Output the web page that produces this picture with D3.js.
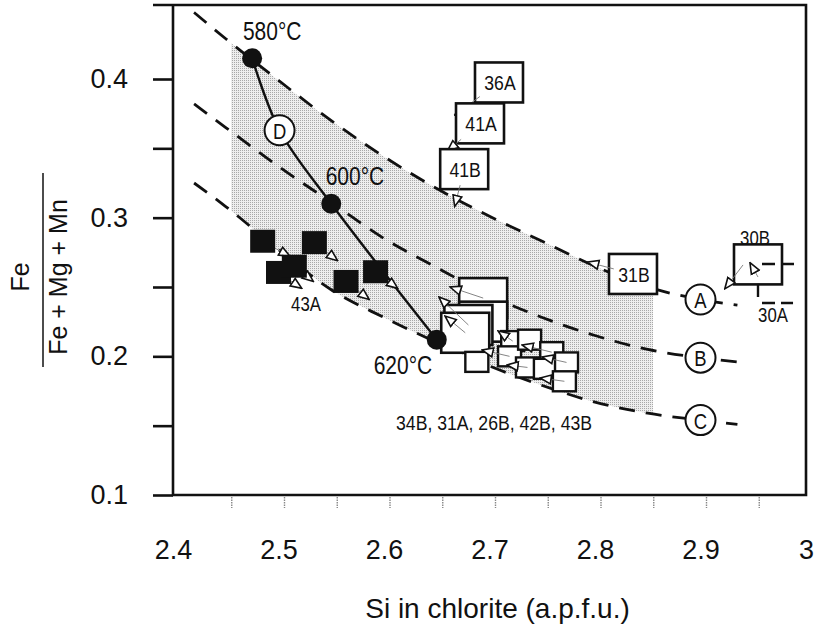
<!DOCTYPE html>
<html>
<head>
<meta charset="utf-8">
<script src="https://cdn.jsdelivr.net/npm/d3@7"></script>
<style>
  body { margin: 0; background: #fff; }
  svg text { font-family: "Liberation Sans", Arial, sans-serif; fill: #111; }
</style>
</head>
<body>
<svg id="chart" width="819" height="633"></svg>
<script>
// dashed curves A, B, C sampled along Si
const curveX = [2.42, 2.45, 2.5, 2.55, 2.6, 2.65, 2.7, 2.75, 2.8, 2.85, 2.9, 2.935];
const curveA = [0.448, 0.429, 0.399, 0.370, 0.344, 0.321, 0.301, 0.283, 0.265, 0.250, 0.241, 0.237];
const curveB = [0.382, 0.365, 0.337, 0.311, 0.285, 0.264, 0.244, 0.228, 0.215, 0.205, 0.199, 0.196];
const curveC = [0.325, 0.308, 0.277, 0.248, 0.228, 0.210, 0.193, 0.179, 0.167, 0.159, 0.154, 0.151];
const bandRange = [2.455, 2.855];

// circled labels on the curves
const circleLabel = ["A", "B", "C", "D"];
const circleX = [2.9, 2.9, 2.9, 2.501];
const circleY = [0.241, 0.199, 0.154, 0.363];

// temperature line D
const lineDX = [2.475, 2.501, 2.55, 2.65];
const lineDY = [0.415, 0.363, 0.310, 0.212];
const tempLabel = ["580°C", "600°C", "620°C"];
const tempX = [2.475, 2.55, 2.65];
const tempY = [0.415, 0.310, 0.212];
const tempTextX = [2.494, 2.5725, 2.618];
const tempTextY = [0.4346, 0.3301, 0.1938];

// black squares (43A) and their shift arrows
const blackX = [2.485, 2.534, 2.500, 2.515, 2.564, 2.592];
const blackY = [0.283, 0.282, 0.2605, 0.265, 0.254, 0.261];
const blackToX = [2.511, 2.556, 2.522, 2.533, 2.586, 2.613];
const blackToY = [0.272, 0.269, 0.249, 0.254, 0.241, 0.249];

// labelled open squares
const boxId = ["36A", "41A", "41B", "31B", "30B"];
const boxX = [2.709, 2.691, 2.676, 2.836, 2.9545];
const boxY = [0.3975, 0.368, 0.335, 0.2594, 0.2663];
const boxToX = [2.667, 2.660, 2.667, 2.793, 2.923];
const boxToY = [0.374, 0.348, 0.308, 0.268, 0.2486];

// cluster 34B, 31A, 26B, 42B, 43B
const bigX = [2.694, 2.694, 2.680, 2.677];
const bigY = [0.242, 0.225, 0.2226, 0.217];
const smallX = [2.722, 2.688, 2.719, 2.738, 2.759, 2.736, 2.753, 2.773, 2.771];
const smallY = [0.211, 0.196, 0.200, 0.212, 0.203, 0.192, 0.191, 0.1956, 0.182];
const shiftFromX = [2.694, 2.680, 2.677, 2.722, 2.719, 2.759, 2.736, 2.773, 2.771, 2.9403, 2.9545];
const shiftFromY = [0.242, 0.2226, 0.217, 0.211, 0.200, 0.203, 0.192, 0.1956, 0.182, 0.2659, 0.2572];
const shiftToX = [2.6626, 2.6521, 2.6578, 2.7081, 2.6929, 2.7308, 2.7166, 2.7498, 2.7479, 2.923, 2.9469];
const shiftToY = [0.2500, 0.2428, 0.2291, 0.2183, 0.2046, 0.2082, 0.1938, 0.1996, 0.1844, 0.2486, 0.2676];

// odd 30A / 30B marks
const markX1 = [2.9583, 2.9545, 2.9583];
const markY1 = [0.2666, 0.2522, 0.2385];
const markX2 = [2.9943, 2.9545, 2.9877];
const markY2 = [0.2666, 0.2428, 0.2385];

const noteText = ["43A", "34B, 31A, 26B, 42B, 43B", "30B", "30A"];
const noteX = [2.5261, 2.7043, 2.9517, 2.9687];
const noteY = [0.2378, 0.1527, 0.2854, 0.2298];

const xTicks = [2.4, 2.5, 2.6, 2.7, 2.8, 2.9, 3];
const yTicks = [0.1, 0.15, 0.2, 0.25, 0.3, 0.35, 0.4];
const xMinor = [2.45, 2.5, 2.55, 2.6, 2.65, 2.7, 2.75, 2.8, 2.85, 2.9, 2.95];

const frame = { left: 173, right: 806, top: 5, bottom: 495 };
const squeeze = 0.84;

const x = d3.scaleLinear().domain([2.4, 3.0]).range([frame.left, frame.right]);
const y = d3.scaleLinear().domain([0.1, 0.4]).range([frame.bottom, 79]);

const svg = d3.select("#chart");
const defs = svg.append("defs");

const pat = defs.append("pattern")
    .attr("id", "stipple")
    .attr("width", 2).attr("height", 2)
    .attr("patternUnits", "userSpaceOnUse");
pat.append("rect").attr("width", 2).attr("height", 2).attr("fill", "#eeeeee");
pat.append("rect").attr("width", 1).attr("height", 1).attr("fill", "#a8a8a8");

defs.append("marker")
    .attr("id", "tri")
    .attr("viewBox", "-1 -6 13 12")
    .attr("refX", 11).attr("refY", 0)
    .attr("markerWidth", 13).attr("markerHeight", 12)
    .attr("markerUnits", "userSpaceOnUse")
    .attr("orient", "auto")
    .append("path")
    .attr("d", "M0,-4.5L11,0L0,4.5Z")
    .attr("fill", "#fff")
    .attr("stroke", "#111")
    .attr("stroke-width", 1.6);

defs.append("clipPath").attr("id", "bandClip")
    .append("rect")
    .attr("x", x(bandRange[0]))
    .attr("y", frame.top)
    .attr("width", x(bandRange[1]) - x(bandRange[0]))
    .attr("height", frame.bottom - frame.top);

// narrow-looking label: squeezed horizontally around its anchor
function label(g, px, py, str, size) {
    return g.append("text")
        .attr("transform", `translate(${px},${py}) scale(${squeeze},1)`)
        .attr("text-anchor", "middle")
        .attr("dominant-baseline", "central")
        .style("font-size", size + "px")
        .text(str);
}

const idx = d3.range(curveX.length);

// shaded field between A and C
const band = d3.area()
    .x(i => x(curveX[i]))
    .y0(i => y(curveC[i]))
    .y1(i => y(curveA[i]))
    .curve(d3.curveMonotoneX);

svg.append("path")
    .datum(idx)
    .attr("d", band)
    .attr("fill", "url(#stipple)")
    .attr("clip-path", "url(#bandClip)");

// frame and axes
svg.append("path")
    .attr("d", `M${frame.left - 20},${frame.top}H${frame.right}V${frame.bottom}H${frame.left}V${frame.top}`)
    .attr("fill", "none")
    .attr("stroke", "#111")
    .attr("stroke-width", 2.6);

const yAxis = svg.append("g")
    .attr("transform", `translate(${frame.left},0)`)
    .call(d3.axisLeft(y)
        .tickValues(yTicks)
        .tickSize(20)
        .tickPadding(25)
        .tickFormat(d => Math.round(d * 100) % 10 === 0 ? d3.format(".1f")(d) : ""));
yAxis.select(".domain").remove();
yAxis.selectAll("line").attr("stroke", "#111").attr("stroke-width", 2.6);
yAxis.selectAll("text").style("font-size", "27px").attr("fill", "#111");

const xAxis = svg.append("g")
    .attr("transform", `translate(0,${frame.bottom})`)
    .call(d3.axisBottom(x)
        .tickValues(xTicks)
        .tickSize(0)
        .tickPadding(45)
        .tickFormat(d3.format("")));
xAxis.select(".domain").remove();
xAxis.selectAll("text").style("font-size", "27px").attr("fill", "#111");

svg.append("g")
    .attr("transform", "translate(6,0)")
    .selectAll("line")
    .data(xMinor)
    .join("line")
    .attr("x1", d => x(d)).attr("x2", d => x(d))
    .attr("y1", frame.bottom + 2).attr("y2", frame.bottom + 13)
    .attr("stroke", "#888")
    .attr("stroke-width", 1.4)
    .attr("stroke-dasharray", "1.5,1");

svg.append("text")
    .attr("x", (frame.left + frame.right) / 2 + 8)
    .attr("y", 618)
    .attr("text-anchor", "middle")
    .style("font-size", "28px")
    .text("Si in chlorite (a.p.f.u.)");

// y title as a fraction
const yt = svg.append("g").attr("transform", "translate(0,277)");
yt.append("text")
    .attr("transform", "translate(29,0) rotate(-90)")
    .attr("text-anchor", "middle")
    .style("font-size", "25px")
    .text("Fe");
yt.append("line")
    .attr("x1", 43).attr("x2", 43)
    .attr("y1", -104).attr("y2", 90)
    .attr("stroke", "#111").attr("stroke-width", 1.5);
yt.append("text")
    .attr("transform", "translate(67,0) rotate(-90)")
    .attr("text-anchor", "middle")
    .style("font-size", "25px")
    .text("Fe + Mg + Mn");

// dashed curves
const curveLine = arr => d3.line()
    .x(i => x(curveX[i]))
    .y(i => y(arr[i]))
    .curve(d3.curveMonotoneX)(idx);

svg.append("g")
    .selectAll("path")
    .data([curveA, curveB, curveC])
    .join("path")
    .attr("d", curveLine)
    .attr("fill", "none")
    .attr("stroke", "#111")
    .attr("stroke-width", 2.8)
    .attr("stroke-dasharray", "16,11");

// temperature line
svg.append("path")
    .datum(d3.range(lineDX.length))
    .attr("d", d3.line().x(i => x(lineDX[i])).y(i => y(lineDY[i])).curve(d3.curveCatmullRom))
    .attr("fill", "none")
    .attr("stroke", "#111")
    .attr("stroke-width", 2.4);

// black squares with arrows beneath
const sq = 25;
svg.append("g")
    .selectAll("line")
    .data(blackX)
    .join("line")
    .attr("x1", (d, i) => x(blackX[i])).attr("y1", (d, i) => y(blackY[i]))
    .attr("x2", (d, i) => x(blackToX[i])).attr("y2", (d, i) => y(blackToY[i]))
    .attr("stroke", "#777").attr("stroke-width", 0.9)
    .attr("marker-end", "url(#tri)");

svg.append("g")
    .selectAll("rect")
    .data(blackX)
    .join("rect")
    .attr("x", (d, i) => x(blackX[i]) - sq / 2)
    .attr("y", (d, i) => y(blackY[i]) - sq / 2 + 1)
    .attr("width", sq).attr("height", sq - 2)
    .attr("fill", "#111");

// labelled squares: arrow from near the box edge
const bw = 48, bh = 40;
const edgePoint = i => {
    const cx = x(boxX[i]), cy = y(boxY[i]);
    const tx = x(boxToX[i]), ty = y(boxToY[i]);
    const dx = tx - cx, dy = ty - cy;
    const t = Math.min(Math.abs((bw / 2) / dx || Infinity), Math.abs((bh / 2) / dy || Infinity));
    return [cx + dx * t * 0.8, cy + dy * t * 0.8];
};

const boxG = svg.append("g");
boxId.forEach((id, i) => {
    if (i === 4) return;
    const [sx, sy] = edgePoint(i);
    boxG.append("rect")
        .attr("x", x(boxX[i]) - bw / 2).attr("y", y(boxY[i]) - bh / 2)
        .attr("width", bw).attr("height", bh)
        .attr("fill", "#fff").attr("stroke", "#111").attr("stroke-width", 2.6);
    label(boxG, x(boxX[i]) + 1, y(boxY[i]), id, 21);
    boxG.append("line")
        .attr("x1", sx).attr("y1", sy)
        .attr("x2", x(boxToX[i])).attr("y2", y(boxToY[i]))
        .attr("stroke", "#777").attr("stroke-width", 0.9)
        .attr("marker-end", "url(#tri)");
});

// 30B box (label sits above)
boxG.append("rect")
    .attr("x", x(boxX[4]) - bw / 2).attr("y", y(boxY[4]) - bh / 2)
    .attr("width", bw).attr("height", bh)
    .attr("fill", "#fff").attr("stroke", "#111").attr("stroke-width", 2.6);

svg.append("g")
    .selectAll("line")
    .data(markX1)
    .join("line")
    .attr("x1", (d, i) => x(markX1[i])).attr("y1", (d, i) => y(markY1[i]))
    .attr("x2", (d, i) => x(markX2[i])).attr("y2", (d, i) => y(markY2[i]))
    .attr("stroke", "#111").attr("stroke-width", 2.4)
    .attr("stroke-dasharray", (d, i) => i === 1 ? null : "13,6");

// cluster of open squares
const cl = svg.append("g");
cl.selectAll("rect.big")
    .data(bigX)
    .join("rect")
    .attr("class", "big")
    .attr("x", (d, i) => x(bigX[i]) - 24).attr("y", (d, i) => y(bigY[i]) - 20)
    .attr("width", 48).attr("height", 40)
    .attr("fill", "#fff").attr("stroke", "#111").attr("stroke-width", 2.6);
cl.selectAll("rect.small")
    .data(smallX)
    .join("rect")
    .attr("class", "small")
    .attr("x", (d, i) => x(smallX[i]) - 11.5).attr("y", (d, i) => y(smallY[i]) - 10)
    .attr("width", 23).attr("height", 20)
    .attr("fill", "#fff").attr("stroke", "#111").attr("stroke-width", 2.4);

svg.append("g")
    .selectAll("line")
    .data(shiftFromX)
    .join("line")
    .attr("x1", (d, i) => x(shiftFromX[i])).attr("y1", (d, i) => y(shiftFromY[i]))
    .attr("x2", (d, i) => x(shiftToX[i])).attr("y2", (d, i) => y(shiftToY[i]))
    .attr("stroke", "#777").attr("stroke-width", 0.9)
    .attr("marker-end", "url(#tri)");

// temperature dots and labels
svg.append("g")
    .selectAll("circle")
    .data(tempX)
    .join("circle")
    .attr("cx", (d, i) => x(tempX[i])).attr("cy", (d, i) => y(tempY[i]))
    .attr("r", 10)
    .attr("fill", "#111");

const tl = svg.append("g");
tempLabel.forEach((t, i) => label(tl, x(tempTextX[i]), y(tempTextY[i]), t, 25));

// circled curve labels
const cg = svg.append("g");
circleLabel.forEach((c, i) => {
    cg.append("circle")
        .attr("cx", x(circleX[i])).attr("cy", y(circleY[i]))
        .attr("r", 15)
        .attr("fill", "#fff").attr("stroke", "#111").attr("stroke-width", 2);
    label(cg, x(circleX[i]), y(circleY[i]) + 1, c, 22);
});

const ng = svg.append("g");
noteText.forEach((t, i) => label(ng, x(noteX[i]), y(noteY[i]), t, i === 1 ? 21 : 20));
</script>
</body>
</html>
